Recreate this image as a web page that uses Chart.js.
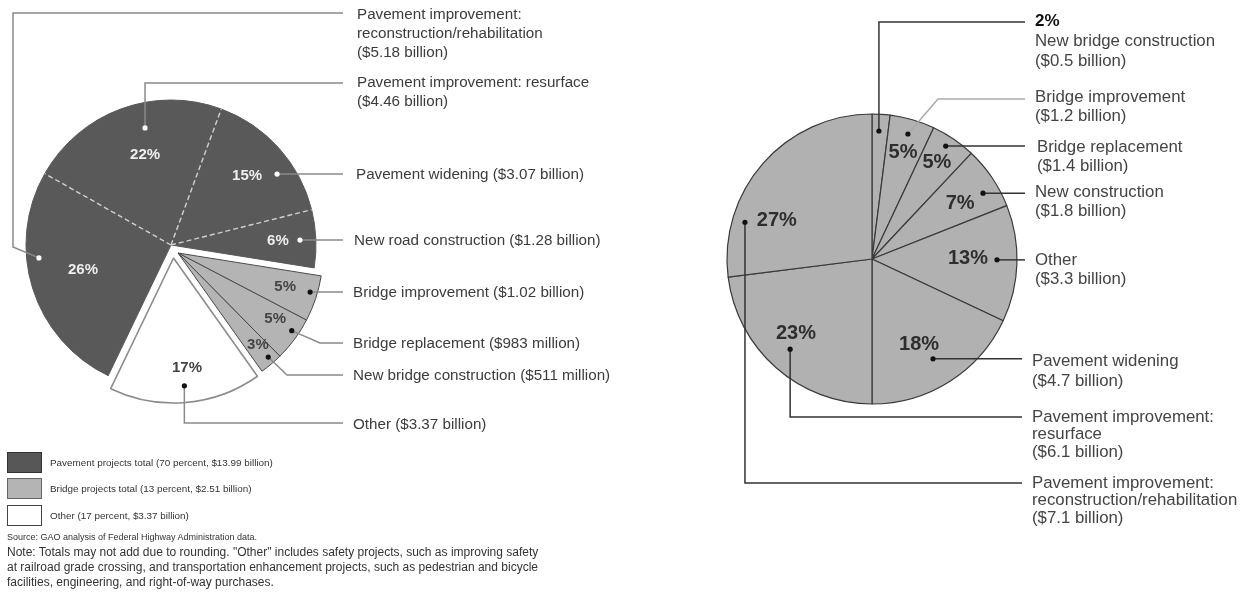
<!DOCTYPE html>
<html>
<head>
<meta charset="utf-8">
<script src="https://cdn.jsdelivr.net/npm/chart.js@4.4.1/dist/chart.umd.min.js"></script>
<style>
  body { margin: 0; background: #fff; font-family: "Liberation Sans", Arial, sans-serif; }
  #page { position: relative; width: 1247px; height: 598px; overflow: hidden; }
  .layer { position: absolute; left: 0; top: 0; width: 1247px; height: 598px; }
  .box { position: absolute; left: 7px; width: 33px; height: 19px; border: 1px solid #333; }
  .legtxt { position: absolute; left: 50px; font-size: 9.9px; color: #333; line-height: 12px; white-space: nowrap; }
  .src { position: absolute; left: 7px; top: 532px; font-size: 9px; color: #333; white-space: nowrap; }
  .note { position: absolute; left: 7px; top: 545px; font-size: 12px; line-height: 15px; color: #333; white-space: nowrap; }
</style>
</head>
<body>
<div id="page">
  <div class="layer"><canvas id="leftPie"></canvas></div>
  <div class="layer"><canvas id="rightPie"></canvas></div>

  <div class="box" style="top:452px;background:#575757;"></div>
  <div class="legtxt" id="leg0" style="top:457px;"></div>
  <div class="box" style="top:478px;background:#b4b4b4;border-color:#666;"></div>
  <div class="legtxt" id="leg1" style="top:483px;"></div>
  <div class="box" style="top:505px;background:#fff;border-color:#444;"></div>
  <div class="legtxt" id="leg2" style="top:510px;"></div>
  <div class="src">Source: GAO analysis of Federal Highway Administration data.</div>
  <div class="note">Note: Totals may not add due to rounding. "Other" includes safety projects, such as improving safety<br>at railroad grade crossing, and transportation enhancement projects, such as pedestrian and bicycle<br>facilities, engineering, and right-of-way purchases.</div>
</div>

<script>
// ---- left pie data ($ billion) ----
var leftCategories = ["Pavement improvement: reconstruction/rehabilitation", "Pavement improvement: resurface",
  "Pavement widening", "New road construction", "Bridge improvement", "Bridge replacement",
  "New bridge construction", "Other"];
var leftValues = [5.18, 4.46, 3.07, 1.28, 1.02, 0.983, 0.511, 3.37];
var leftPercents = ["26%", "22%", "15%", "6%", "5%", "5%", "3%", "17%"];
var leftAmounts = ["$5.18 billion", "$4.46 billion", "$3.07 billion", "$1.28 billion",
  "$1.02 billion", "$983 million", "$511 million", "$3.37 billion"];
var leftGroups = ["pavement", "pavement", "pavement", "pavement", "bridge", "bridge", "bridge", "other"];

var legendLabels = ["Pavement projects total (70 percent, $13.99 billion)",
  "Bridge projects total (13 percent, $2.51 billion)",
  "Other (17 percent, $3.37 billion)"];

// ---- right pie data (percent) ----
var rightCategories = ["New bridge construction", "Bridge improvement", "Bridge replacement",
  "New construction", "Other", "Pavement widening", "Pavement improvement: resurface",
  "Pavement improvement: reconstruction/rehabilitation"];
var rightValues = [2, 5, 5, 7, 13, 18, 23, 27];
var rightAmounts = ["$0.5 billion", "$1.2 billion", "$1.4 billion", "$1.8 billion",
  "$3.3 billion", "$4.7 billion", "$6.1 billion", "$7.1 billion"];

legendLabels.forEach(function (s, i) { document.getElementById("leg" + i).textContent = s; });

// ---- styling / layout ----
var groupFill = { pavement: "#595959", bridge: "#b4b4b4", other: "#ffffff" };
var groupBorder = { pavement: "#595959", bridge: "#4a4a4a", other: "#8c8c8c" };
var groupShift = { pavement: [0, 0], bridge: [7, 8], other: [2.5, 13] };

// t = fraction along the slice angle, f = fraction of radius; route = elbows of the leader line
var leftLayout = [
  { t: .626, f: .915, pt: .516, pf: .631, route: [[13, 247], [13, 13], [343, 13]], tx: 357, ty: 15, wrap: 3 },
  { t: .594, f: .827, pt: .55, pf: .646, route: [[null, 83], [343, 83]], tx: 357, ty: 83, wrap: 2 },
  { t: .646, f: .88, pt: .495, pf: .708, route: [[343, null]], tx: 356, ty: 175, wrap: 1 },
  { t: .513, f: .89, pt: .517, pf: .738, route: [[343, null]], tx: 354, ty: 241, wrap: 1 },
  { t: .40, f: .95, pt: .46, pf: .775, route: [[343, null]], tx: 353, ty: 293, wrap: 1 },
  { t: .38, f: .95, pt: .37, pf: .81, route: [[320, 343], [343, 343]], tx: 353, ty: 344, wrap: 1 },
  { t: .40, f: .95, pt: .39, pf: .84, route: [[287, 375], [343, 375]], tx: 353, ty: 376, wrap: 1 },
  { t: .50, f: .885, pt: .465, pf: .764, route: [[null, 423], [343, 423]], tx: 353, ty: 425, wrap: 1 }
];

var rightLayout = [
  { t: .43, f: .884, pt: null, route: [[null, 22], [1025, 22]], tx: 1035, ty: 21, wrap: 2, lh: 20, head: "2%" },
  { t: .49, f: .897, pt: .5, pf: .768, route: [[938, 99], [1025, 99]], tx: 1035, ty: 97, wrap: 2, lh: 19, color: "#aaaaaa" },
  { t: .44, f: .93, pt: .49, pf: .80, route: [[1025, null]], tx: 1037, ty: 147, wrap: 2, lh: 19 },
  { t: .64, f: .89, pt: .57, pf: .72, route: [[1025, null]], tx: 1035, ty: 192, wrap: 2, lh: 19 },
  { t: .47, f: .862, pt: .46, pf: .662, route: [[1025, null]], tx: 1035, ty: 260, wrap: 2, lh: 19 },
  { t: .515, f: .807, pt: .557, pf: .676, route: [[1022, null]], tx: 1032, ty: 361, wrap: 2, lh: 20 },
  { t: .51, f: .84, pt: .553, pf: .732, route: [[null, 417], [1022, 417]], tx: 1032, ty: 417, wrap: 3, lh: 17.5 },
  { t: .24, f: .912, pt: .30, pf: .708, route: [[null, 483], [1022, 483]], tx: 1032, ty: 483, wrap: 3, lh: 17.5 }
];

function labelLines(cat, amt, wrap) {
  if (wrap === 1) return [cat + " (" + amt + ")"];
  if (wrap === 2) return [cat, "(" + amt + ")"];
  var k = cat.indexOf(": ");
  return [cat.slice(0, k + 1), cat.slice(k + 2), "(" + amt + ")"];
}

function arcPoint(arc, s, t, f) {
  var a = arc.startAngle + t * (arc.endAngle - arc.startAngle);
  var r = f * arc.outerRadius;
  return { x: arc.x + s[0] + Math.cos(a) * r, y: arc.y + s[1] + Math.sin(a) * r };
}

// draws each slice shifted with its group (exploded groups)
var explodePlugin = {
  id: "explode",
  beforeDatasetDraw: function (chart, args) {
    if (chart.canvas.id !== "leftPie") return;
    var ctx = chart.ctx;
    var arcs = args.meta.data;
    arcs.forEach(function (arc, i) {
      var s = groupShift[leftGroups[i]];
      ctx.save();
      ctx.translate(s[0], s[1]);
      arc.draw(ctx);
      ctx.restore();
    });
    // light dashed separators inside the pavement group
    ctx.save();
    ctx.strokeStyle = "#d0d0d0";
    ctx.lineWidth = 1.4;
    ctx.setLineDash([5, 3]);
    for (var i = 1; i < arcs.length; i++) {
      if (leftGroups[i] !== "pavement" || leftGroups[i - 1] !== "pavement") continue;
      var a = arcs[i];
      ctx.beginPath();
      ctx.moveTo(a.x, a.y);
      ctx.lineTo(a.x + Math.cos(a.startAngle) * a.outerRadius, a.y + Math.sin(a.startAngle) * a.outerRadius);
      ctx.stroke();
    }
    ctx.restore();
    return false;
  }
};

function makeLeaderPlugin(id, layout, cats, amts, pcts, shiftFor, st) {
  return {
    id: id,
    afterDatasetsDraw: function (chart) {
      var ctx = chart.ctx;
      var arcs = chart.getDatasetMeta(0).data;
      layout.forEach(function (L, i) {
        var arc = arcs[i];
        var s = shiftFor(i);
        var p = arcPoint(arc, s, L.t, L.f);
        ctx.save();
        ctx.strokeStyle = L.color || st.lineColor;
        ctx.lineWidth = st.lineWidth;
        ctx.beginPath();
        ctx.moveTo(p.x, p.y);
        L.route.forEach(function (w) {
          ctx.lineTo(w[0] == null ? p.x : w[0], w[1] == null ? p.y : w[1]);
        });
        ctx.stroke();
        ctx.fillStyle = st.dotColor(i);
        ctx.beginPath();
        ctx.arc(p.x, p.y, st.dotRadius, 0, Math.PI * 2);
        ctx.fill();
        if (L.pt != null) {
          var q = arcPoint(arc, s, L.pt, L.pf);
          ctx.font = st.pctFont;
          ctx.fillStyle = st.pctColor(i);
          ctx.textAlign = "center";
          ctx.textBaseline = "middle";
          ctx.fillText(pcts[i], q.x, q.y);
        }
        var lines = labelLines(cats[i], amts[i], L.wrap);
        var y = L.ty;
        ctx.textAlign = "left";
        ctx.textBaseline = "middle";
        if (L.head) {
          ctx.font = st.headFont;
          ctx.fillStyle = "#111";
          ctx.fillText(L.head, L.tx, y);
          y += L.lh || st.lh;
        }
        ctx.font = st.textFont;
        ctx.fillStyle = st.textColor;
        lines.forEach(function (ln) {
          ctx.fillText(ln, L.tx, y);
          y += L.lh || st.lh;
        });
        ctx.restore();
      });
    }
  };
}

Chart.register(explodePlugin);

new Chart(document.getElementById("leftPie"), {
  type: "pie",
  data: {
    labels: leftCategories,
    datasets: [{
      data: leftValues,
      backgroundColor: leftGroups.map(function (g) { return groupFill[g]; }),
      borderColor: leftGroups.map(function (g) { return groupBorder[g]; }),
      borderWidth: leftGroups.map(function (g) { return g === "other" ? 1.6 : 1; })
    }]
  },
  options: {
    responsive: true,
    maintainAspectRatio: false,
    animation: false,
    events: [],
    radius: 145,
    rotation: -154.33,
    layout: { padding: { left: 0, right: 905, top: 0, bottom: 108 } },
    plugins: { legend: { display: false }, tooltip: { enabled: false } }
  },
  plugins: [makeLeaderPlugin("leftLeaders", leftLayout, leftCategories, leftAmounts, leftPercents,
    function (i) { return groupShift[leftGroups[i]]; },
    {
      lineColor: "#8a8a8a", lineWidth: 1.5, dotRadius: 2.6, lh: 19,
      dotColor: function (i) { return leftGroups[i] === "pavement" ? "#ffffff" : "#111111"; },
      pctColor: function (i) { return leftGroups[i] === "pavement" ? "#eeeeee" : "#444444"; },
      pctFont: "bold 15px 'Liberation Sans', Arial, sans-serif",
      textFont: "15.2px 'Liberation Sans', Arial, sans-serif",
      headFont: "bold 15.2px 'Liberation Sans', Arial, sans-serif",
      textColor: "#3c3c3c"
    })]
});

new Chart(document.getElementById("rightPie"), {
  type: "pie",
  data: {
    labels: rightCategories,
    datasets: [{
      data: rightValues,
      backgroundColor: "#b1b1b1",
      borderColor: "#3a3a3a",
      borderWidth: 1.2
    }]
  },
  options: {
    responsive: true,
    maintainAspectRatio: false,
    animation: false,
    events: [],
    radius: 145,
    rotation: 0,
    layout: { padding: { left: 600, right: 103, top: 0, bottom: 80 } },
    plugins: { legend: { display: false }, tooltip: { enabled: false } }
  },
  plugins: [makeLeaderPlugin("rightLeaders", rightLayout, rightCategories, rightAmounts,
    rightValues.map(function (v) { return v + "%"; }),
    function () { return [0, 0]; },
    {
      lineColor: "#333333", lineWidth: 1.5, dotRadius: 2.6, lh: 19.5,
      dotColor: function () { return "#111111"; },
      pctColor: function () { return "#2e2e2e"; },
      pctFont: "bold 20px 'Liberation Sans', Arial, sans-serif",
      textFont: "16.8px 'Liberation Sans', Arial, sans-serif",
      headFont: "bold 17px 'Liberation Sans', Arial, sans-serif",
      textColor: "#444444"
    })]
});
</script>
</body>
</html>
